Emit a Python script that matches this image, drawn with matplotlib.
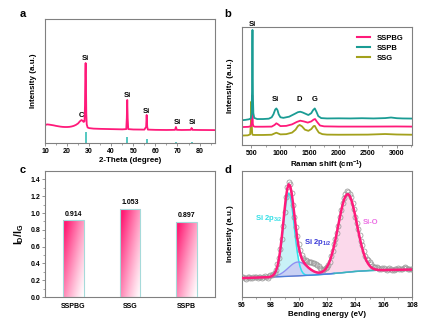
import numpy as np
import matplotlib
matplotlib.use("Agg")
import matplotlib.pyplot as plt
from matplotlib.colors import LinearSegmentedColormap
from matplotlib.lines import Line2D

plt.rcParams['font.family'] = ['Liberation Sans', 'DejaVu Sans']
plt.rcParams['font.weight'] = 'bold'
plt.rcParams['axes.labelweight'] = 'bold'
plt.rcParams['mathtext.fontset'] = 'custom'
plt.rcParams['mathtext.rm'] = 'Liberation Sans:bold'
plt.rcParams['mathtext.bf'] = 'Liberation Sans:bold'
plt.rcParams['mathtext.it'] = 'Liberation Sans:bold'

# ---------------- data: (a) XRD ----------------
xrd_x = [10, 11, 12, 13, 14, 15, 16, 17, 18, 19, 20, 21, 22, 23, 24, 25, 25.8, 26.5, 27.0, 27.5, 27.9,
         28.1, 28.25, 28.4, 28.55, 28.7, 28.9, 29.3, 30, 32, 35, 40, 45, 46.8, 47.05, 47.25, 47.45,
         47.7, 50, 55, 55.8, 56.05, 56.3, 56.6, 60, 65, 68.9, 69.3, 69.7, 72, 76.0, 76.4, 76.8, 80, 87]
xrd_y = [14.5, 15.0, 14.8, 14.5, 14.2, 13.8, 13.5, 13.2, 13.0, 12.9, 12.9, 13.0, 13.3, 13.8, 14.6, 15.8,
         17.5, 18.5, 18.0, 17.0, 17.5, 30, 55, 64.5, 50, 24, 15, 12.5, 12.0, 11.6, 11.4, 11.2, 11.0,
         11.2, 20, 34.7, 20, 11.2, 10.9, 10.8, 13, 22.6, 13, 10.8, 10.6, 10.5, 10.6, 12.9, 10.6,
         10.5, 10.6, 12.1, 10.6, 10.5, 10.4]
ref_x = [28.4, 47.3, 56.1, 69.3, 76.4]
ref_h = [9.0, 5.0, 3.0, 0.8, 1.0]
xrd_labels = [("C", 26.6, 22.3), ("Si", 28.4, 68.3), ("Si", 47.3, 38.1), ("Si", 56.1, 25.2),
              ("Si", 69.8, 16.5), ("Si", 76.8, 16.5)]

# ---------------- data: (b) Raman ----------------
sspb_x = [340, 400, 460, 490, 505, 512, 517, 520, 523, 528, 535, 550, 600, 700, 800, 850, 880, 910,
          930, 950, 970, 1000, 1050, 1150, 1250, 1300, 1340, 1380, 1430, 1480, 1530, 1560, 1590,
          1620, 1650, 1700, 1800, 2000, 2200, 2400, 2600, 2800, 2900, 2950, 3000, 3100, 3260]
sspb_y = [21, 21.3, 21.8, 22.5, 26, 45, 85, 97.5, 80, 40, 27, 23, 22, 22, 22.3, 23.5, 26, 30, 31,
          29.5, 26, 23.5, 23, 24, 26.5, 27.8, 28.2, 27.6, 26.5, 25.4, 27, 29.5, 31, 28, 24.5, 22.8,
          22.5, 22.6, 22.5, 22.7, 22.5, 22.8, 23.3, 23, 22.7, 22.5, 22.4]
sspbg_x = [340, 450, 495, 508, 513, 517, 521, 526, 535, 560, 700, 850, 900, 930, 960, 1000, 1100,
           1200, 1280, 1340, 1400, 1470, 1530, 1570, 1595, 1630, 1680, 1750, 2000, 2500, 3000, 3260]
sspbg_y = [15.2, 15.4, 16, 20, 35, 42, 30, 18, 16, 15.5, 15.5, 15.6, 17, 18.4, 17.5, 16, 16.2, 17.5,
           19.5, 20.6, 20, 19, 20, 21.5, 22, 19.5, 16.5, 15.8, 15.6, 15.6, 15.7, 15.6]
ssg_x = [340, 440, 480, 495, 500, 505, 510, 515, 525, 560, 700, 850, 900, 930, 960, 1000, 1100,
         1200, 1260, 1300, 1330, 1370, 1420, 1480, 1530, 1570, 1590, 1620, 1660, 1720, 1800, 2000,
         2500, 2800, 3000, 3260]
ssg_y = [8.0, 8.2, 9, 20, 36.7, 30, 15, 9.5, 8.6, 8.5, 8.5, 8.7, 9.8, 10.4, 9.8, 9, 9.2, 10.5, 13,
         16, 17, 15.8, 13, 12, 13.5, 16, 16.2, 13.5, 10.5, 9.2, 8.8, 8.7, 8.8, 9.3, 8.9, 8.7]
raman_labels = [("Si", 514, 101.7), ("Si", 913, 38.5), ("D", 1330, 38.5), ("G", 1590, 38.5)]

# ---------------- data: (c) ID/IG ----------------
samples = ["SSPBG", "SSG", "SSPB"]
ratios = [0.914, 1.053, 0.897]

# ---------------- data: (d) XPS ----------------
bg_x = [96, 98, 100, 101, 102, 103, 104, 105, 106, 107, 108]
bg_y = [15.0, 15.8, 16.8, 17.4, 18.2, 19.2, 20.3, 21.0, 21.4, 21.6, 21.8]
p32_start = 98.0
p32_y = [0.2, 0.45, 1.0, 2.1, 4.0, 7.2, 12.1, 19.0, 27.8, 37.9, 48.3, 57.5, 63.8, 66.0, 63.8, 57.5,
         48.3, 37.9, 27.8, 19.0, 12.1, 7.2, 4.0, 2.1, 1.0, 0.45, 0.2]
p12_start = 98.0
p12_y = [0.18, 0.27, 0.40, 0.58, 0.82, 1.13, 1.53, 2.03, 2.63, 3.34, 4.14, 5.04, 5.99, 6.97, 7.93,
         8.84, 9.64, 10.28, 10.74, 10.97, 10.97, 10.74, 10.28, 9.64, 8.84, 7.93, 6.97, 5.99, 5.04,
         4.14, 3.34, 2.63, 2.03, 1.53, 1.13, 0.82, 0.58, 0.40, 0.27, 0.18, 0.12]
sio_start = 101.0
sio_y = [0.06, 0.11, 0.19, 0.31, 0.50, 0.79, 1.22, 1.84, 2.72, 3.93, 5.54, 7.65, 10.3, 13.6, 17.5,
         22.0, 27.0, 32.5, 38.2, 43.8, 49.1, 53.9, 57.7, 60.4, 61.8, 61.8, 60.4, 57.7, 53.9, 49.1,
         43.8, 38.2, 32.5, 27.0, 22.0, 17.5, 13.6, 10.3, 7.65, 5.54, 3.93, 2.72, 1.84, 1.22, 0.79,
         0.50, 0.31, 0.19, 0.11, 0.06]
resid = [0.8, 1.2, 0.3, -0.5, 0.6, 1.0, 0.2, -0.3, 0.5, 0.9,
         0.4, -0.2, 0.6, 0.3, -0.4, 0.5, 0.8, 0.1, -0.3, 0.6,
         0.9, 1.2, 0.8, 0.5, 1.0, 1.5, 1.2, 0.6, -0.5, -1.0,
         -1.2, 0.5, 1.5, 1.8, 1.2, 0.0, -1.5, -1.0, 0.5, 1.5,
         2.0, 2.5, 2.2, 2.0, 2.8, 3.5, 4.2, 4.8, 5.5, 6.0,
         6.5, 7.0, 6.8, 6.0, 5.0, 3.8, 2.5, 1.5, 0.8, 0.5,
         0.2, -0.5, -0.8, 0.3, 0.8, 1.2, 0.6, -0.5, -1.0, 0.2,
         0.8, 1.5, 1.8, 2.2, 2.5, 2.0, 1.2, 1.5, 1.0, 0.3,
         -0.5, 0.5, 1.2, 1.5, 2.0, 2.8, 2.2, 1.5, 1.8, 2.5,
         3.0, 2.6, 2.0, 1.5, 1.8, 2.2, 1.5, 0.8, 0.5, 1.2,
         1.5, 0.8, 0.2, 0.5, 1.2, 0.8, 0.2, -0.3, 0.4, 1.0,
         1.5, 0.8, 0.3, 0.9, 1.6, 2.0, 1.2, 0.5, 0.8, 0.3,
         0.5]

# ---------------- colours ----------------
PINK = '#ff1a7a'
TEAL = '#1a9c94'
OLIVE = '#a3a11c'
SPINE = '#808080'

W, H = 429, 324
fig = plt.figure(figsize=(W / 100, H / 100), dpi=100)


def add_ax(l, t, r, b):
    return fig.add_axes([l / W, 1 - b / H, (r - l) / W, (b - t) / H])


def style(ax):
    for s in ax.spines.values():
        s.set_color(SPINE)
        s.set_linewidth(0.8)
    ax.tick_params(axis='both', which='major', length=2, width=0.6, color=SPINE,
                   labelsize=5, pad=1.5)
    ax.tick_params(axis='both', which='minor', length=1.2, width=0.5, color=SPINE)


# ---- (a) ----
axa = add_ax(45, 19, 215, 143)
style(axa)
axa.plot(xrd_x, xrd_y, color=PINK, lw=1.3)
axa.vlines(ref_x, 0, ref_h, color='#46c4bc', lw=1.3)
for t, x, y in xrd_labels:
    axa.text(x, y, t, ha='center', va='center', fontsize=5.5, fontweight='bold')
axa.set_xlim(10, 87)
axa.set_ylim(0, 100)
axa.set_xticks(np.arange(10, 81, 10))
axa.set_xticks(np.arange(15, 86, 10), minor=True)
axa.set_yticks([])
axa.set_xlabel('2-Theta (degree)', fontsize=5.8, labelpad=1.5)
axa.set_ylabel('Intensity (a.u.)', fontsize=5.8, labelpad=6)

# ---- (b) ----
axb = add_ax(242, 27, 412, 145)
style(axb)
axb.plot(ssg_x, ssg_y, color=OLIVE, lw=1.3)
axb.plot(sspbg_x, sspbg_y, color=PINK, lw=1.3)
axb.plot(sspb_x, sspb_y, color=TEAL, lw=1.3)
for t, x, y in raman_labels:
    axb.text(x, y, t, ha='center', va='center', fontsize=5.5, fontweight='bold', clip_on=False)
axb.set_xlim(340, 3260)
axb.set_ylim(0, 100)
axb.set_xticks(np.arange(500, 3001, 500))
axb.set_xticks(np.arange(750, 3251, 500), minor=True)
axb.set_yticks([])
axb.set_xlabel('Raman shift (cm$^{-1}$)', fontsize=5.8, labelpad=1.5)
axb.set_ylabel('Intensity (a.u.)', fontsize=5.8, labelpad=6)
handles = [Line2D([], [], color=PINK, lw=1.5), Line2D([], [], color=TEAL, lw=1.5),
           Line2D([], [], color=OLIVE, lw=1.5)]
axb.legend(handles, ['SSPBG', 'SSPB', 'SSG'], loc='upper right', frameon=False,
           prop={'size': 5.5, 'weight': 'bold'}, handlelength=1.6, handletextpad=0.9,
           labelspacing=0.35, borderaxespad=0.3, bbox_to_anchor=(0.98, 0.98))

# ---- (c) ----
axc = add_ax(45, 171, 215, 297)
style(axc)
cmap = LinearSegmentedColormap.from_list('pk', ['#ffffff', '#ff1c74'])
nx, ny = 60, 120
U, V = np.meshgrid(np.linspace(0, 1, nx), np.linspace(0, 1, ny))
grad = np.clip(0.6 * (1 - U) + 0.5 * V, 0, 1) ** 1.2
bw = 0.36
for i, (name, v) in enumerate(zip(samples, ratios)):
    bar = axc.bar(i, v, width=bw, color='none', edgecolor='#a6dada', lw=0.8, zorder=3)[0]
    im = axc.imshow(grad, extent=(i - bw / 2, i + bw / 2, 0, v), origin='lower', aspect='auto',
                    cmap=cmap, vmin=0, vmax=1, zorder=2, interpolation='bilinear')
    im.set_clip_path(bar)
    axc.text(i, v + 0.03, f'{v:.3f}', ha='center', va='bottom', fontsize=5, fontweight='bold')
axc.set_xlim(-0.5, 2.5)
axc.set_ylim(0, 1.5)
axc.set_xticks(range(len(samples)))
axc.set_xticklabels(samples)
axc.tick_params(axis='x', length=0, pad=4)
axc.set_yticks(np.arange(0, 1.41, 0.2))
axc.set_yticks(np.arange(0.1, 1.5, 0.2), minor=True)
axc.yaxis.set_major_formatter(matplotlib.ticker.FormatStrFormatter('%.1f'))
axc.set_ylabel(r'I$_{\mathbf{D}}$/I$_{\mathbf{G}}$', fontsize=7.5, labelpad=3)

# ---- (d) ----
axd = add_ax(242, 171, 412, 297)
style(axd)
xg = np.round(np.arange(96.0, 108.0001, 0.1), 1)


def on_grid(start, vals):
    arr = np.zeros_like(xg)
    i0 = int(round((start - 96.0) / 0.1))
    arr[i0:i0 + len(vals)] = vals
    return arr


bg = np.interp(xg, bg_x, bg_y)
c32 = on_grid(p32_start, p32_y)
c12 = on_grid(p12_start, p12_y)
cso = on_grid(sio_start, sio_y)
env = bg + c32 + c12 + cso
data = env + np.array(resid)

axd.fill_between(xg, bg, bg + cso, color='#f9c6e1', alpha=0.65, lw=0, zorder=1)
axd.fill_between(xg, bg, bg + c32, color='#b8eef5', alpha=0.75, lw=0, zorder=1)
axd.fill_between(xg, bg, bg + c12, color='#c9c6f3', alpha=0.75, lw=0, zorder=1)
axd.plot(xg, bg + cso, color='#f29fd0', lw=0.8, zorder=2)
axd.plot(xg, bg + c32, color='#2fe0ee', lw=1.1, zorder=2)
axd.plot(xg, bg + c12, color='#8f8ff2', lw=1.0, zorder=2)
axd.plot(xg[xg <= 102.5], bg[xg <= 102.5], color='#4c7fd8', lw=1.0, zorder=2)
axd.plot(xg[xg >= 102.5], bg[xg >= 102.5], color='#3cb5b8', lw=1.0, zorder=2)
axd.plot(xg, data, 'o', ms=3.6, mfc='none', mec='#9a9a9a', mew=0.55, zorder=3)
axd.plot(xg, env, color=PINK, lw=1.8, zorder=4)
axd.text(96.9, 62, r'Si 2p$_{\mathbf{3/2}}$', color='#33dfe6', fontsize=5.5, fontweight='bold',
         ha='left', va='center')
axd.text(100.4, 43.4, r'Si 2p$_{\mathbf{1/2}}$', color='#3838d8', fontsize=5.5, fontweight='bold',
         ha='left', va='center')
axd.text(104.5, 59, 'Si-O', color='#ec6fe4', fontsize=5.5, fontweight='bold', ha='left',
         va='center')
axd.set_xlim(96, 108)
axd.set_ylim(0, 100)
axd.set_xticks(np.arange(96, 108.1, 2))
axd.set_xticks(np.arange(97, 108, 2), minor=True)
axd.set_yticks([])
axd.set_xlabel('Bending energy (eV)', fontsize=5.8, labelpad=1.5)
axd.set_ylabel('Indensity (a.u.)', fontsize=5.8, labelpad=6)

# panel letters
for lab, px, py in [('a', 23, 14), ('b', 228, 14), ('c', 23, 170), ('d', 228, 170)]:
    fig.text(px / W, 1 - py / H, lab, fontsize=8, fontweight='bold', ha='center', va='center')

fig.savefig('out.png', dpi=100)
